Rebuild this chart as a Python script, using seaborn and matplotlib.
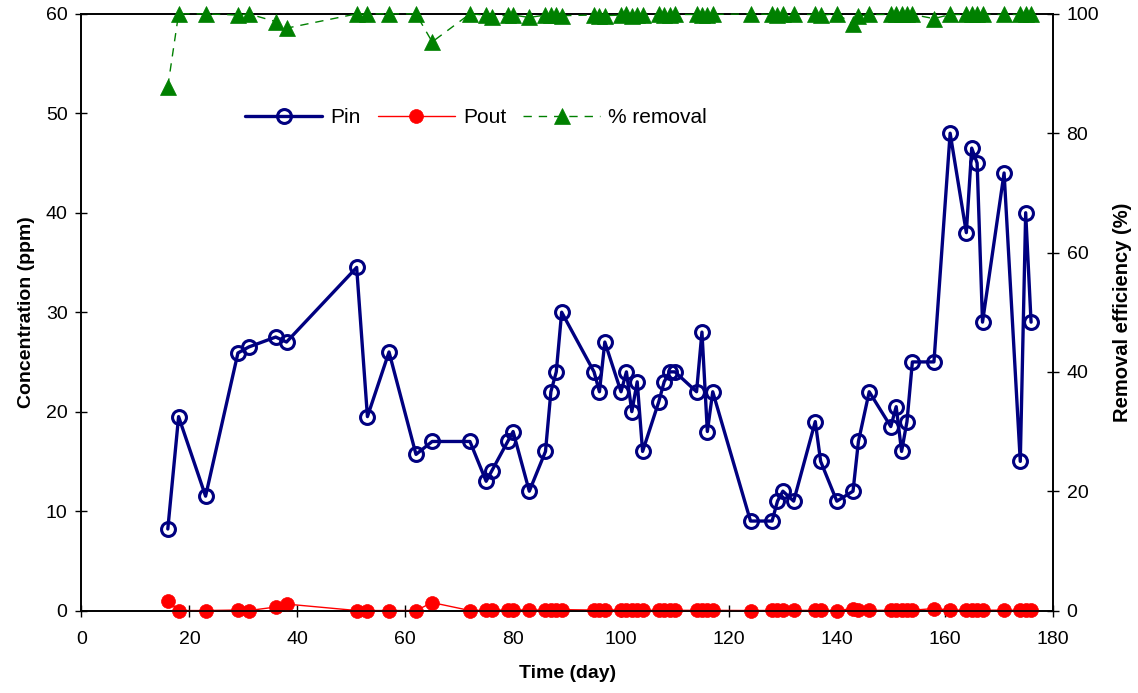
import matplotlib
matplotlib.use("Agg")
import matplotlib.pyplot as plt
import seaborn as sns
import pandas as pd

# Sampling days and measured phosphorus concentrations
days = [16, 18, 23, 29, 31, 36, 38, 51, 53, 57, 62, 65, 72, 75, 76, 79, 80, 83,
        86, 87, 88, 89, 95, 96, 97, 100, 101, 102, 103, 104, 107, 108, 109, 110,
        114, 115, 116, 117, 124, 128, 129, 130, 132, 136, 137, 140, 143, 144, 146,
        150, 151, 152, 153, 154, 158, 161, 164, 165, 166, 167, 171, 174, 175, 176]

p_in = [8.2, 19.5, 11.5, 25.9, 26.5, 27.5, 27.0, 34.5, 19.5, 26.0, 15.7, 17.0,
        17.0, 13.0, 14.0, 17.0, 18.0, 12.0, 16.0, 22.0, 24.0, 30.0, 24.0, 22.0,
        27.0, 22.0, 24.0, 20.0, 23.0, 16.0, 21.0, 23.0, 24.0, 24.0, 22.0, 28.0,
        18.0, 22.0, 9.0, 9.0, 11.0, 12.0, 11.0, 19.0, 15.0, 11.0, 12.0, 17.0,
        22.0, 18.5, 20.5, 16.0, 19.0, 25.0, 25.0, 48.0, 38.0, 46.5, 45.0, 29.0,
        44.0, 15.0, 40.0, 29.0]

p_out = [1.0, 0.0, 0.0, 0.05, 0.0, 0.35, 0.65, 0.0, 0.0, 0.0, 0.0, 0.8,
         0.0, 0.03, 0.07, 0.03, 0.04, 0.07, 0.03, 0.04, 0.05, 0.09, 0.05, 0.09,
         0.08, 0.04, 0.02, 0.06, 0.05, 0.03, 0.02, 0.05, 0.05, 0.02, 0.02, 0.06,
         0.04, 0.02, 0.0, 0.01, 0.02, 0.01, 0.01, 0.02, 0.03, 0.0, 0.2, 0.07,
         0.02, 0.02, 0.02, 0.02, 0.02, 0.03, 0.2, 0.05, 0.04, 0.05, 0.05, 0.03,
         0.04, 0.02, 0.04, 0.03]

removal = [87.8, 100.0, 100.0, 99.8, 100.0, 98.7, 97.6, 100.0, 100.0, 100.0, 100.0, 95.3,
           100.0, 99.8, 99.5, 99.8, 99.8, 99.4, 99.8, 99.8, 99.8, 99.7, 99.8, 99.6,
           99.7, 99.8, 99.9, 99.7, 99.8, 99.8, 99.9, 99.8, 99.8, 99.9, 99.9, 99.8,
           99.8, 99.9, 100.0, 99.9, 99.8, 99.9, 99.9, 99.9, 99.8, 100.0, 98.3, 99.6,
           99.9, 99.9, 99.9, 99.9, 99.9, 99.9, 99.2, 99.9, 99.9, 99.9, 99.9, 99.9,
           99.9, 99.9, 99.9, 99.9]

x_ticks = [0, 20, 40, 60, 80, 100, 120, 140, 160, 180]
left_ticks = [0, 10, 20, 30, 40, 50, 60]
right_ticks = [0, 20, 40, 60, 80, 100]

df = pd.DataFrame({"day": days, "Pin": p_in, "Pout": p_out, "removal": removal})

sns.set_theme(style="ticks")
plt.rcParams["font.family"] = ["Liberation Sans", "DejaVu Sans"]
plt.rcParams["text.color"] = "black"
plt.rcParams["axes.labelcolor"] = "black"
plt.rcParams["xtick.color"] = "black"
plt.rcParams["ytick.color"] = "black"

fig = plt.figure(figsize=(11.38, 6.93), dpi=100)
ax = fig.add_subplot(111)
fig.subplots_adjust(left=0.0716, right=0.925, top=0.98, bottom=0.119)
ax2 = ax.twinx()

navy = "#000080"
red = "#FF0000"
green = "#008000"

sns.lineplot(data=df, x="day", y="Pin", ax=ax, sort=False, estimator=None,
             color=navy, lw=2.4, marker="o", markersize=10,
             markerfacecolor="none", markeredgecolor=navy, markeredgewidth=2.2,
             label="Pin", clip_on=False, zorder=4)
sns.lineplot(data=df, x="day", y="Pout", ax=ax, sort=False, estimator=None,
             color=red, lw=1.0, marker="o", markersize=10,
             markerfacecolor=red, markeredgecolor=red, markeredgewidth=0.5,
             label="Pout", clip_on=False, zorder=5)
sns.lineplot(data=df, x="day", y="removal", ax=ax2, sort=False, estimator=None,
             color=green, lw=1.0, linestyle=(0, (6, 5)), marker="^", markersize=11,
             markerfacecolor=green, markeredgecolor=green, markeredgewidth=0.5,
             label="% removal", clip_on=False, zorder=4)

ax.set_xlim(0, 180)
ax.set_ylim(0, 60)
ax2.set_ylim(0, 100)
ax.set_xticks(x_ticks)
ax.set_yticks(left_ticks)
ax2.set_yticks(right_ticks)

for a in (ax, ax2):
    a.tick_params(direction="inout", length=8, width=1, labelsize=14,
                  colors="black", labelcolor="black", pad=6)
    for s in a.spines.values():
        s.set_color("black")
        s.set_linewidth(1.2)
ax.tick_params(axis="x", pad=11)

ax.set_xlabel("Time (day)", fontsize=14, fontweight="bold", labelpad=12, color="black")
ax.set_ylabel("Concentration (ppm)", fontsize=14, fontweight="bold", labelpad=8, color="black")
ax2.set_ylabel("Removal efficiency (%)", fontsize=14.5, fontweight="bold", labelpad=10, color="black")

h1, l1 = ax.get_legend_handles_labels()
h2, l2 = ax2.get_legend_handles_labels()
if ax.get_legend() is not None:
    ax.get_legend().remove()
leg = ax2.legend(h1 + h2, l1 + l2, loc="center left", bbox_to_anchor=(0.16, 0.826),
                 ncol=3, frameon=False, fontsize=15, handlelength=3.7,
                 columnspacing=0.8, handletextpad=0.4, numpoints=1, borderaxespad=0)
for t in leg.get_texts():
    t.set_color("black")

fig.savefig("out.png", dpi=100)
